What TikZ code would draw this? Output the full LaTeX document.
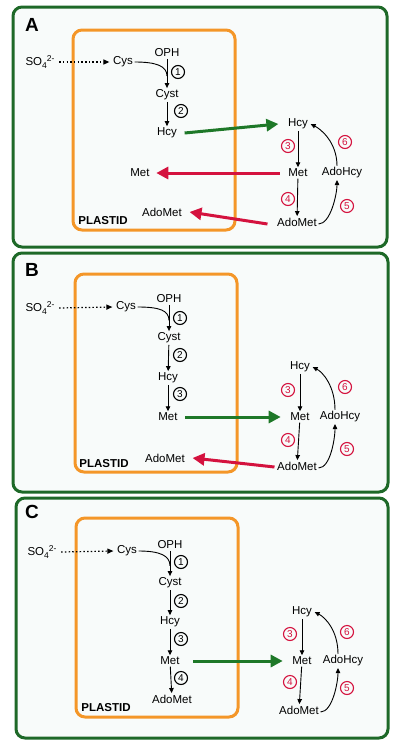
\documentclass[tikz,border=0pt]{standalone}
\usepackage{fontspec}
\setmainfont{Liberation Sans}
\usetikzlibrary{arrows.meta,calc}
\definecolor{frameg}{RGB}{30,105,40}
\definecolor{panelbg}{RGB}{248,251,250}
\definecolor{plorange}{RGB}{244,150,40}
\definecolor{redarr}{RGB}{212,18,62}
\definecolor{grarr}{RGB}{30,120,40}
\tikzset{
  panel/.style={draw=frameg,line width=3pt,fill=panelbg,rounded corners=9pt},
  plastidbox/.style={draw=plorange,line width=3pt,rounded corners=9pt},
  lbl/.style={inner sep=1.5pt,font=\fontsize{11.5}{12}\selectfont},
  plbl/.style={inner sep=1pt,font=\bfseries\fontsize{11.5}{12}\selectfont},
  panellbl/.style={inner sep=0pt,font=\bfseries\fontsize{19}{20}\selectfont},
  numk/.style={circle,draw,line width=1.1pt,inner sep=0pt,minimum size=13pt,font=\fontsize{10}{10}\selectfont},
  numr/.style={numk,draw=redarr,text=redarr},
  blk/.style={line width=0.9pt,-{Triangle[length=5pt,width=4.5pt]}},
  blkline/.style={line width=0.9pt},
  dotarr/.style={line width=1.2pt,dash pattern=on 1.5pt off 2.2pt,-{Triangle[length=6pt,width=5pt]}},
  greenarr/.style={line width=3pt,draw=grarr,-{Triangle[length=12pt,width=12pt]},color=grarr},
  redarrow/.style={line width=3pt,draw=redarr,-{Triangle[length=12pt,width=12pt]},color=redarr}
}
\newcommand{\sofour}{SO\raisebox{-2.5pt}{\fontsize{8.5}{9}\selectfont 4}\raisebox{4pt}{\fontsize{8.5}{9}\selectfont 2-}}
\begin{document}
\begin{tikzpicture}[x=1pt,y=-1pt]
\useasboundingbox (0,0) rectangle (400,750);
\fill[white] (0,0) rectangle (400,750);

% ---------------- Panel A ----------------
\draw[panel] (13,7) rectangle (387,247);
\draw[plastidbox] (73,30) rectangle (235,230);
\node[panellbl] (A-lab) at (32,25) {A};
\node[lbl] (A-so4) at (40,62) {\sofour};
\node[lbl] (A-cys) at (123,62) {Cys};
\node[lbl] (A-oph) at (167,53) {OPH};
\node[lbl] (A-cyst) at (167,95) {Cyst};
\node[lbl] (A-hcy) at (167,133) {Hcy};
\node[lbl] (A-met) at (140,173) {Met};
\node[lbl] (A-adomet) at (162,212) {AdoMet};
\node[plbl] (A-plastid) at (103,221) {PLASTID};
\node[numk] (A-n1) at (178,72) {1};
\node[numk] (A-n2) at (181,111) {2};
\node[lbl] (A-hcy2) at (298,124) {Hcy};
\node[lbl] (A-met2) at (298,173) {Met};
\node[lbl] (A-adohcy) at (342,173) {AdoHcy};
\node[lbl] (A-adomet2) at (297,222) {AdoMet};
\node[numr] (A-r3) at (288,146) {3};
\node[numr] (A-r4) at (288,199) {4};
\node[numr] (A-r5) at (347,206) {5};
\node[numr] (A-r6) at (345,142) {6};
\draw[dotarr] ([xshift=3pt]A-so4.east) -- ([xshift=-2pt]A-cys.west);
\draw[blk] (A-oph) -- (A-cyst);
\draw[blkline] (A-cys.east) .. controls +(22,0) and +(0,-10) .. ($(A-oph)!0.55!(A-cyst)$);
\draw[blk] (A-cyst) -- (A-hcy);
\draw[greenarr] ([xshift=6pt]A-hcy.east) -- ([xshift=-8pt]A-hcy2.west);
\draw[blk] (A-hcy2) -- (A-met2);
\draw[blk] (A-met2) -- (A-adomet2);
\draw[redarrow] ([xshift=-7pt]A-met2.west) -- ([xshift=5pt]A-met.east);
\draw[redarrow] ([xshift=-8pt,yshift=-2pt]A-adomet2.west) -- ([xshift=6pt]A-adomet.east);
\draw[blk] ([yshift=-2pt]A-adomet2.east) .. controls +(12,0) and +(0,14) .. ([xshift=-5pt]A-adohcy.south);
\draw[blk] ([xshift=-5pt]A-adohcy.north) .. controls +(0,-24) and +(10,5) .. ([xshift=1pt]A-hcy2.east);

% ---------------- Panel B ----------------
\draw[panel] (13,253) rectangle (388,492);
\draw[plastidbox] (75,274) rectangle (237,472);
\node[panellbl] (B-lab) at (32,270) {B};
\node[lbl] (B-so4) at (40,308) {\sofour};
\node[lbl] (B-cys) at (126,307) {Cys};
\node[lbl] (B-oph) at (169,299) {OPH};
\node[lbl] (B-cyst) at (169,338) {Cyst};
\node[lbl] (B-hcy) at (168,378) {Hcy};
\node[lbl] (B-met) at (168,417) {Met};
\node[lbl] (B-adomet) at (165,458) {AdoMet};
\node[plbl] (B-plastid) at (104,464) {PLASTID};
\node[numk] (B-n1) at (180,318) {1};
\node[numk] (B-n2) at (180,355) {2};
\node[numk] (B-n3) at (180,394) {3};
\node[lbl] (B-hcy2) at (300,367) {Hcy};
\node[lbl] (B-met2) at (300,417) {Met};
\node[lbl] (B-adohcy) at (340,417) {AdoHcy};
\node[lbl] (B-adomet2) at (297,466) {AdoMet};
\node[numr] (B-r3) at (288,390) {3};
\node[numr] (B-r4) at (288,440) {4};
\node[numr] (B-r5) at (347,449) {5};
\node[numr] (B-r6) at (345,387) {6};
\draw[dotarr] ([xshift=3pt]B-so4.east) -- ([xshift=-2pt]B-cys.west);
\draw[blk] (B-oph) -- (B-cyst);
\draw[blkline] (B-cys.east) .. controls +(22,0) and +(0,-10) .. ($(B-oph)!0.55!(B-cyst)$);
\draw[blk] (B-cyst) -- (B-hcy);
\draw[blk] (B-hcy) -- (B-met);
\draw[greenarr] ([xshift=6pt]B-met.east) -- ([xshift=-8pt]B-met2.west);
\draw[blk] (B-hcy2) -- (B-met2);
\draw[blk] (B-met2) -- (B-adomet2);
\draw[redarrow] ([xshift=-1pt,yshift=-1pt]B-adomet2.west) -- ([xshift=6pt]B-adomet.east);
\draw[blk] ([yshift=-2pt]B-adomet2.east) .. controls +(12,0) and +(0,14) .. ([xshift=-5pt]B-adohcy.south);
\draw[blk] ([xshift=-5pt]B-adohcy.north) .. controls +(0,-24) and +(10,5) .. ([xshift=1pt]B-hcy2.east);

% ---------------- Panel C ----------------
\draw[panel] (16,498) rectangle (388,738);
\draw[plastidbox] (76,518) rectangle (238,717);
\node[panellbl] (C-lab) at (32,512) {C};
\node[lbl] (C-so4) at (42,552) {\sofour};
\node[lbl] (C-cys) at (127,551) {Cys};
\node[lbl] (C-oph) at (170,545) {OPH};
\node[lbl] (C-cyst) at (170,583) {Cyst};
\node[lbl] (C-hcy) at (170,622) {Hcy};
\node[lbl] (C-met) at (170,661) {Met};
\node[lbl] (C-adomet) at (172,699) {AdoMet};
\node[plbl] (C-plastid) at (106,708) {PLASTID};
\node[numk] (C-n1) at (181,562) {1};
\node[numk] (C-n2) at (181,601) {2};
\node[numk] (C-n3) at (181,639) {3};
\node[numk] (C-n4) at (181,678) {4};
\node[lbl] (C-hcy2) at (302,612) {Hcy};
\node[lbl] (C-met2) at (302,661) {Met};
\node[lbl] (C-adohcy) at (343,661) {AdoHcy};
\node[lbl] (C-adomet2) at (299,710) {AdoMet};
\node[numr] (C-r3) at (290,634) {3};
\node[numr] (C-r4) at (290,682) {4};
\node[numr] (C-r5) at (347,688) {5};
\node[numr] (C-r6) at (347,632) {6};
\draw[dotarr] ([xshift=3pt]C-so4.east) -- ([xshift=-2pt]C-cys.west);
\draw[blk] (C-oph) -- (C-cyst);
\draw[blkline] (C-cys.east) .. controls +(22,0) and +(0,-10) .. ($(C-oph)!0.55!(C-cyst)$);
\draw[blk] (C-cyst) -- (C-hcy);
\draw[blk] (C-hcy) -- (C-met);
\draw[blk] (C-met) -- (C-adomet);
\draw[greenarr] ([xshift=12pt]C-met.east) -- ([xshift=-8pt]C-met2.west);
\draw[blk] (C-hcy2) -- (C-met2);
\draw[blk] (C-met2) -- (C-adomet2);
\draw[blk] ([yshift=-2pt]C-adomet2.east) .. controls +(12,0) and +(0,14) .. ([xshift=-5pt]C-adohcy.south);
\draw[blk] ([xshift=-5pt]C-adohcy.north) .. controls +(0,-24) and +(10,5) .. ([xshift=1pt]C-hcy2.east);
\end{tikzpicture}
\end{document}
